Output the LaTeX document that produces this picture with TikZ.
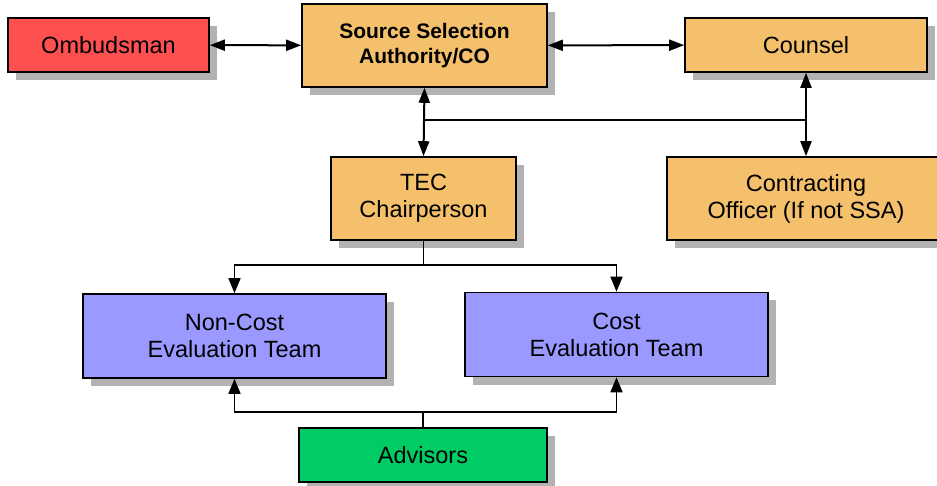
\documentclass[tikz,border=0pt]{standalone}
\usepackage{fontspec}
\setmainfont{Liberation Sans}
\usepackage{tikz}
\usetikzlibrary{
  arrows.meta,
  positioning,
  calc,
  shadows
}
\definecolor{ombudscolor}{RGB}{255, 80, 80}
\definecolor{officecolor}{RGB}{245, 192, 108}
\definecolor{teamcolor}{RGB}{153, 153, 255}
\definecolor{advisorcolor}{RGB}{0, 204, 102}
\definecolor{shadowcolor}{RGB}{178, 178, 178}
\definecolor{linecolor}{RGB}{0, 0, 0}
\tikzset{
blocktext/.style={
  align=center,
  font=\fontsize{23.5}{27}\selectfont,
  text=black
},
orgblock/.style={
  draw=linecolor,
  line width=1.6pt,
  inner sep=0pt,
  drop shadow={shadow xshift=8pt, shadow yshift=-8pt, fill=shadowcolor, opacity=1},
  blocktext
},
officeblock/.style={
  orgblock,
  fill=officecolor
},
teamblock/.style={
  orgblock,
  fill=teamcolor,
  minimum width=303pt,
  minimum height=84pt
},
ombudsblock/.style={
  orgblock,
  fill=ombudscolor
},
advisorblock/.style={
  orgblock,
  fill=advisorcolor
},
link/.style={
  draw=linecolor,
  line width=1.6pt
},
arrow/.style={
  link,
  -{Triangle[length=15pt,width=12pt]}
},
dblarrow/.style={
  link,
  line width=2pt,
  {Triangle[length=15pt,width=11pt]}-{Triangle[length=15pt,width=11pt]}
}
}

\begin{document}
\begin{tikzpicture}[x=1pt, y=-1pt]
  \useasboundingbox (0,0) rectangle (937,486);

  % top row
  \node[ombudsblock, minimum width=201pt, minimum height=54pt] (omb) at (108.5,45) {Ombudsman};
  \node[officeblock, minimum width=245pt, minimum height=83pt,
        font=\bfseries\fontsize{21}{25}\selectfont] (ssa) at (424.5,45.5) {Source Selection\\Authority/CO};
  \node[officeblock, minimum width=242pt, minimum height=54pt] (counsel) at (806,45) {Counsel};

  % second row
  \node[officeblock, minimum width=185pt, minimum height=83pt] (tec) at (423.5,198.5) {TEC\\Chairperson};
  \node[officeblock, minimum width=278pt, minimum height=83pt] (co) at (806,198.5) {Contracting\\Officer (If not SSA)};

  % evaluation teams
  \node[teamblock] (noncost) at (234.5,336) {Non-Cost\\Evaluation Team};
  \node[teamblock] (cost) at (616.5,334.5) {Cost\\Evaluation Team};

  \node[advisorblock, minimum width=248pt, minimum height=54pt] (adv) at (423,455) {Advisors};

  % junction levels
  \coordinate (bus) at (0,120);
  \coordinate (split) at (0,265);
  \coordinate (merge) at (0,412);

  \draw[dblarrow] (omb) -- (ssa);
  \draw[dblarrow] (ssa) -- (counsel);

  \draw[dblarrow] (ssa.south) -- (tec.north);
  \draw[dblarrow] (counsel.south) -- (co.north);
  \draw[link] (ssa.south |- bus) -- (counsel.south |- bus);

  \draw[link] (tec.south) -- (tec.south |- split);
  \draw[arrow] (tec.south |- split) -| (noncost.north);
  \draw[arrow] (tec.south |- split) -| (cost.north);

  \draw[link] (adv.north) -- (adv.north |- merge);
  \draw[arrow] (adv.north |- merge) -| (noncost.south);
  \draw[arrow] (adv.north |- merge) -| (cost.south);
\end{tikzpicture}
\end{document}
